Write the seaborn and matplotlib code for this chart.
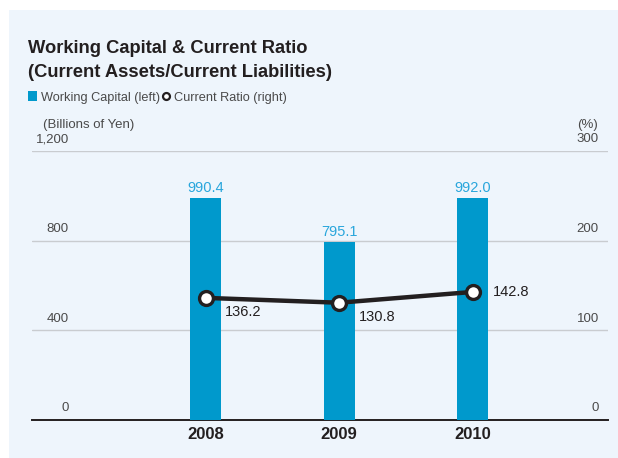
import matplotlib
matplotlib.use("Agg")
import matplotlib.pyplot as plt
import seaborn as sns
import pandas as pd
from matplotlib.patches import Rectangle
from matplotlib.lines import Line2D

years = ["2008", "2009", "2010"]
working_capital = [990.4, 795.1, 992.0]
current_ratio = [136.2, 130.8, 142.8]
left_ticks = [0, 400, 800, 1200]
left_tick_labels = ["0", "400", "800", "1,200"]
right_ticks = [0, 100, 200, 300]
right_tick_labels = ["0", "100", "200", "300"]

sns.set_theme(style="white")
plt.rcParams["font.family"] = ["Liberation Sans", "DejaVu Sans"]

W, H = 618, 458
BG = "#eef5fc"
BAR = "#0099cc"
VAL = "#29a6dc"
DARK = "#231f20"
GRAY = "#4a4a4a"

def fx(px):
    return px / W

def fy(py):
    return 1 - py / H

fig = plt.figure(figsize=(W / 100, H / 100), dpi=100)
fig.patch.set_facecolor("white")
bg = Rectangle((fx(9), 0), 1 - fx(9), fy(10), transform=fig.transFigure,
               facecolor=BG, edgecolor="none", zorder=-10)
fig.patches.append(bg)

ax = fig.add_axes([fx(32), fy(420), fx(608) - fx(32), fy(151) - fy(420)])
ax.set_zorder(2)
ax.set_facecolor("none")

df = pd.DataFrame({"year": years, "wc": working_capital})
sns.barplot(data=df, x="year", y="wc", color=BAR, saturation=1, width=0.232, ax=ax,
            zorder=3, edgecolor="none", linewidth=0)
ax.set_ylim(0, 1200)
ax.set_xlim(-1.30, 3.015)

for v in left_ticks[1:]:
    ax.axhline(v, color="#c9ccd0", lw=1, zorder=1)
for s in ["top", "right", "left"]:
    ax.spines[s].set_visible(False)
ax.spines["bottom"].set_color(DARK)
ax.spines["bottom"].set_linewidth(1.4)
ax.set_yticks([])
ax.set_xticks([])
ax.set_xlabel("")
ax.set_ylabel("")

ytr = ax.get_yaxis_transform()
for v, lab in zip(left_ticks, left_tick_labels):
    ax.annotate(lab, (0.064, v), xycoords=ytr, xytext=(0, 4), textcoords="offset points",
                ha="right", va="bottom", fontsize=9.5, color=GRAY)
for v, lab in zip(right_ticks, right_tick_labels):
    ax.annotate(lab, (0.984, v * 4), xycoords=ytr, xytext=(0, 4), textcoords="offset points",
                ha="right", va="bottom", fontsize=9.5, color=GRAY)

for i, (y, v) in enumerate(zip(years, working_capital)):
    ax.annotate(f"{v:.1f}", (i, v), xytext=(0, 2), textcoords="offset points",
                ha="center", va="bottom", fontsize=10.5, color=VAL)
    ax.annotate(y, (i, 0), xytext=(0, -5), textcoords="offset points",
                ha="center", va="top", fontsize=12, fontweight="bold", color=DARK,
                annotation_clip=False)

ax2 = ax.twinx()
ax2.set_zorder(3)
ax2.set_facecolor("none")
ax2.set_ylim(0, 300)
sns.lineplot(x=[0, 1, 2], y=current_ratio, ax=ax2, color=DARK, lw=3.2, marker="o",
             markersize=10, markerfacecolor="white", markeredgecolor=DARK,
             markeredgewidth=2.4, zorder=5)
ax2.set_xlim(-1.30, 3.015)
ax2.set_ylim(0, 300)
ax2.set_yticks([])
ax2.set_ylabel("")
for s in ax2.spines.values():
    s.set_visible(False)

offs = [(14, -10), (14, -10), (15, 0)]
for i, (v, o) in enumerate(zip(current_ratio, offs)):
    ax2.annotate(f"{v:.1f}", (i, v), xytext=o, textcoords="offset points",
                 ha="left", va="center", fontsize=10.5, color=DARK)

fig.text(fx(28), fy(53), "Working Capital & Current Ratio", fontsize=13.2,
         fontweight="bold", color=DARK, ha="left", va="baseline")
fig.text(fx(28), fy(77), "(Current Assets/Current Liabilities)", fontsize=13.2,
         fontweight="bold", color=DARK, ha="left", va="baseline")

fig.patches.append(Rectangle((fx(28), fy(101)), fx(9), fy(91) - fy(101),
                             transform=fig.transFigure, facecolor=BAR, edgecolor="none"))
fig.text(fx(41), fy(101), "Working Capital (left)", fontsize=9.2, color=GRAY,
         ha="left", va="baseline")
fig.lines.append(Line2D([fx(166)], [fy(96)], transform=fig.transFigure, marker="o",
                        markersize=5, markerfacecolor="white", markeredgecolor=DARK,
                        markeredgewidth=1.6, linestyle="none"))
fig.text(fx(174), fy(101), "Current Ratio (right)", fontsize=9.2, color=GRAY,
         ha="left", va="baseline")

fig.text(fx(43), fy(128), "(Billions of Yen)", fontsize=9.5, color=GRAY, ha="left", va="baseline")
fig.text(fx(598), fy(128), "(%)", fontsize=9.5, color=GRAY, ha="right", va="baseline")

fig.savefig("out.png", dpi=100, facecolor=fig.get_facecolor())
